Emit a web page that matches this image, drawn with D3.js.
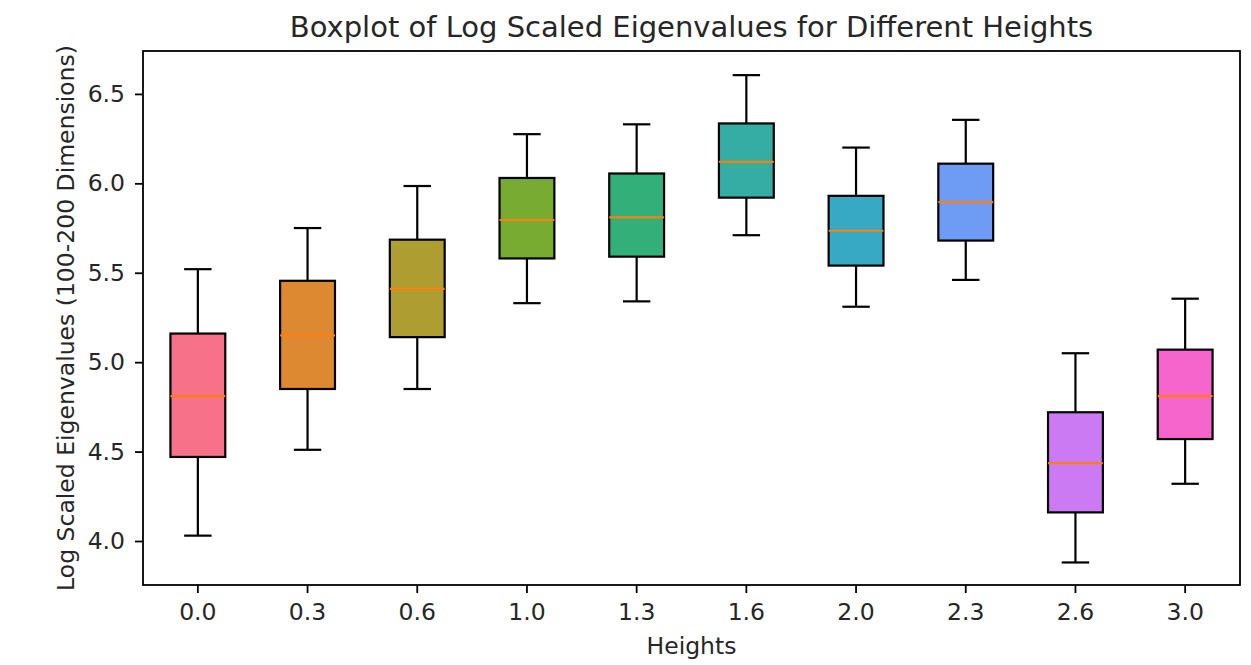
<!DOCTYPE html>
<html>
<head>
<meta charset="utf-8">
<style>
  body { margin: 0; background: #fff; }
  text { font-family: "DejaVu Sans", sans-serif; fill: #262626; }
</style>
</head>
<body>
<svg id="chart" width="1251" height="665"></svg>
<script src="https://d3js.org/d3.v7.min.js"></script>
<script>
  // heights and box stats
  const heights = ['0.0', '0.3', '0.6', '1.0', '1.3', '1.6', '2.0', '2.3', '2.6', '3.0']
  const whiskerLow = [4.03, 4.51, 4.85, 5.33, 5.34, 5.71, 5.31, 5.46, 3.88, 4.32]
  const q1 = [4.47, 4.85, 5.14, 5.58, 5.59, 5.92, 5.54, 5.68, 4.16, 4.57]
  const median = [4.81, 5.15, 5.41, 5.795, 5.81, 6.12, 5.735, 5.895, 4.435, 4.81]
  const q3 = [5.16, 5.455, 5.685, 6.03, 6.055, 6.335, 5.93, 6.11, 4.72, 5.07]
  const whiskerHigh = [5.52, 5.75, 5.985, 6.275, 6.33, 6.605, 6.2, 6.355, 5.05, 5.355]
  const colors = ['#f77189', '#dc8932', '#ae9d31', '#77ab31', '#33b07a',
                  '#36ada4', '#38a9c5', '#6e9bf4', '#cc7af4', '#f565cc']
  const yTicks = [4.0, 4.5, 5.0, 5.5, 6.0, 6.5]

  const data = heights.map((h, i) => ({
    h, lo: whiskerLow[i], q1: q1[i], med: median[i], q3: q3[i], hi: whiskerHigh[i], color: colors[i]
  }))

  const margin = { left: 143, right: 11, top: 51, bottom: 80 }
  const W = 1251, H = 665
  const svg = d3.select('#chart')

  const x = d3.scaleBand()
    .domain(heights)
    .range([margin.left, W - margin.right])
    .padding(0)
  const y = d3.scaleLinear()
    .domain([3.754, 6.74])
    .range([H - margin.bottom, margin.top])

  const boxW = x.bandwidth() * 0.5
  const capW = x.bandwidth() * 0.25
  const cx = d => x(d.h) + x.bandwidth() / 2
  const lw = 2.2

  const boxes = svg.append('g').selectAll('g.box').data(data).enter().append('g').attr('class', 'box')

  // whiskers
  boxes.append('line')
    .attr('x1', cx).attr('x2', cx)
    .attr('y1', d => y(d.lo)).attr('y2', d => y(d.q1))
    .attr('stroke', '#000').attr('stroke-width', lw)
  boxes.append('line')
    .attr('x1', cx).attr('x2', cx)
    .attr('y1', d => y(d.q3)).attr('y2', d => y(d.hi))
    .attr('stroke', '#000').attr('stroke-width', lw)
  // caps
  boxes.append('line')
    .attr('x1', d => cx(d) - capW / 2).attr('x2', d => cx(d) + capW / 2)
    .attr('y1', d => y(d.lo)).attr('y2', d => y(d.lo))
    .attr('stroke', '#000').attr('stroke-width', lw)
  boxes.append('line')
    .attr('x1', d => cx(d) - capW / 2).attr('x2', d => cx(d) + capW / 2)
    .attr('y1', d => y(d.hi)).attr('y2', d => y(d.hi))
    .attr('stroke', '#000').attr('stroke-width', lw)
  // boxes
  boxes.append('rect')
    .attr('x', d => cx(d) - boxW / 2)
    .attr('width', boxW)
    .attr('y', d => y(d.q3))
    .attr('height', d => y(d.q1) - y(d.q3))
    .attr('fill', d => d.color)
    .attr('stroke', '#000').attr('stroke-width', lw)
  // medians
  boxes.append('line')
    .attr('x1', d => cx(d) - boxW / 2).attr('x2', d => cx(d) + boxW / 2)
    .attr('y1', d => y(d.med)).attr('y2', d => y(d.med))
    .attr('stroke', '#ff7f0e').attr('stroke-width', lw)

  // axes
  const xAxis = svg.append('g')
    .attr('transform', `translate(0,${H - margin.bottom})`)
    .call(d3.axisBottom(x).tickSize(8).tickPadding(10))
  const yAxis = svg.append('g')
    .attr('transform', `translate(${margin.left},0)`)
    .call(d3.axisLeft(y).tickValues(yTicks).tickFormat(d3.format('.1f')).tickSize(8).tickPadding(10))
  ;[xAxis, yAxis].forEach(a => {
    a.select('.domain').remove()
    a.selectAll('.tick line').attr('stroke', '#000').attr('stroke-width', 1.8)
    a.selectAll('.tick text').style('font-size', '23.5px').style('font-family', '"DejaVu Sans", sans-serif').attr('fill', '#262626')
  })

  // frame
  svg.append('rect')
    .attr('x', margin.left).attr('y', margin.top)
    .attr('width', W - margin.right - margin.left)
    .attr('height', H - margin.bottom - margin.top)
    .attr('fill', 'none').attr('stroke', '#000').attr('stroke-width', 1.8)

  // labels
  svg.append('text')
    .attr('x', (margin.left + W - margin.right) / 2).attr('y', 37)
    .attr('text-anchor', 'middle').style('font-size', '29px')
    .text('Boxplot of Log Scaled Eigenvalues for Different Heights')
  svg.append('text')
    .attr('x', (margin.left + W - margin.right) / 2).attr('y', 654)
    .attr('text-anchor', 'middle').style('font-size', '23.5px')
    .text('Heights')
  svg.append('text')
    .attr('transform', `translate(74,${(margin.top + H - margin.bottom) / 2}) rotate(-90)`)
    .attr('text-anchor', 'middle').style('font-size', '23.5px')
    .text('Log Scaled Eigenvalues (100-200 Dimensions)')
</script>
</body>
</html>
